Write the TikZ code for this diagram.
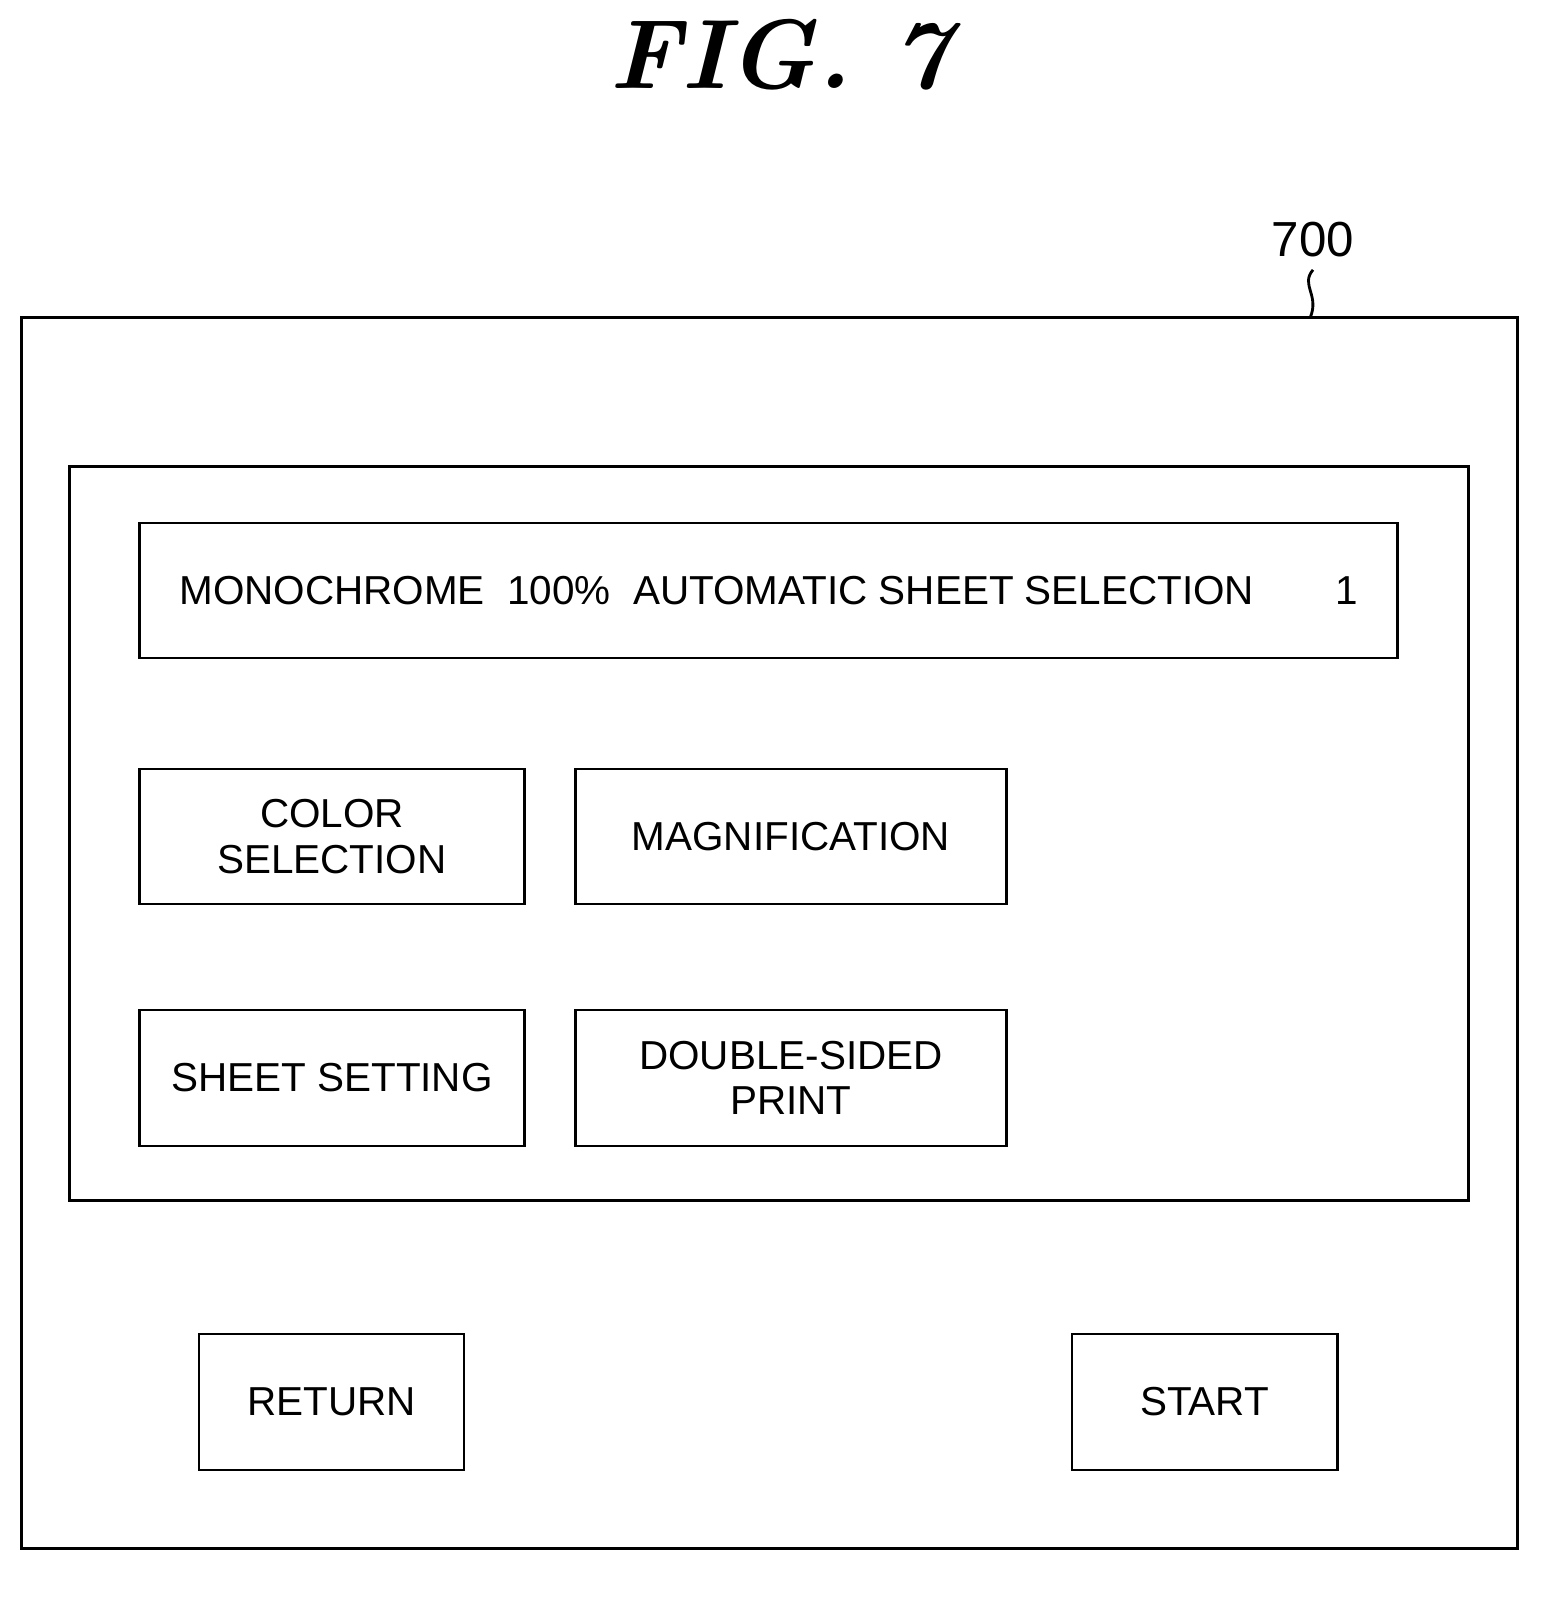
\documentclass[tikz,border=0pt]{standalone}
\usepackage{fontspec}
\setsansfont{Liberation Sans}
\tikzstyle{panelbox}=[
      rectangle,
      draw=black,
      thick,
      inner sep = 0pt,
      align = center,
      font = \sffamily\fontsize{11.5}{13}\selectfont
      ]
\tikzstyle{framebox}=[
      rectangle,
      draw=black,
      thick,
      inner sep = 0pt
      ]

\begin{document}
\begin{tikzpicture}[x=0.01cm,y=-0.01cm]
\useasboundingbox (0,0) rectangle (1564,1597);
\node [font=\bfseries\itshape\fontsize{28}{32}\selectfont] (title) at (780,55) {FIG. 7};
\node [font=\sffamily\fontsize{14}{16}\selectfont] (ref) at (1313,240) {700};

% outer screen and work area
\node [framebox, minimum width=14.95cm, minimum height=12.30cm] (screen) at (769.5,933) {};
\node [framebox, minimum width=13.98cm, minimum height=7.33cm] (area) at (769,833.5) {};
\coordinate (screentop) at (1310,318);
\draw [thick] (ref.south) .. controls (1300,285) and (1320,295) .. (screentop);

% status line and keys
\node [panelbox, minimum width=12.57cm, minimum height=1.35cm] (status) at (768.5,590.5)
  {MONOCHROME\ \ 100\%\ \ AUTOMATIC SHEET SELECTION\qquad 1};
\node [panelbox, minimum width=3.84cm, minimum height=1.35cm] (color) at (332,836.5) {COLOR\\SELECTION};
\node [panelbox, minimum width=4.30cm, minimum height=1.35cm] (mag) at (791,836.5) {MAGNIFICATION};
\node [panelbox, minimum width=3.84cm, minimum height=1.36cm] (sheet) at (332,1078) {SHEET SETTING};
\node [panelbox, minimum width=4.30cm, minimum height=1.36cm] (duplex) at (791,1078) {DOUBLE-SIDED\\PRINT};
\node [panelbox, minimum width=2.65cm, minimum height=1.36cm] (return) at (331.5,1402) {RETURN};
\node [panelbox, minimum width=2.65cm, minimum height=1.36cm] (start) at (1204.5,1402) {START};
\end{tikzpicture}
\end{document}
